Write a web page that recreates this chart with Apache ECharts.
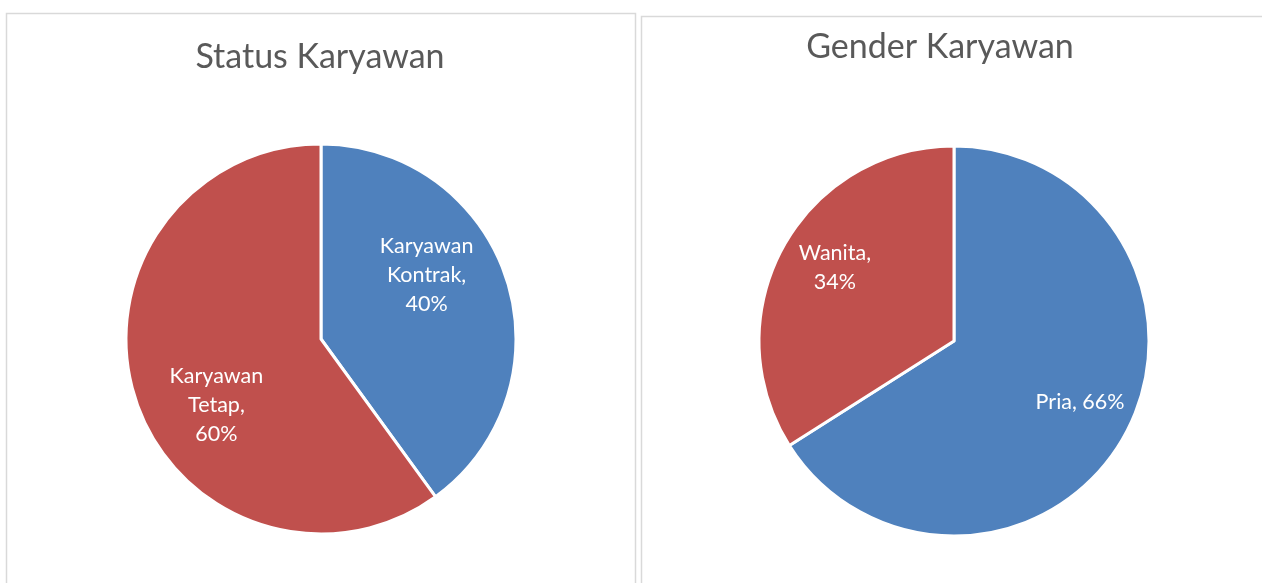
<!DOCTYPE html>
<html><head><meta charset="utf-8">
<script src="https://cdn.jsdelivr.net/npm/echarts@6/dist/echarts.min.js"></script>
<style>html,body{margin:0;padding:0;background:#fff}#c{width:1262px;height:583px}</style>
</head><body><div id="c"></div>
<script>
const statusTitle = 'Status Karyawan';
const statusNames = ['Karyawan\nKontrak', 'Karyawan\nTetap'];
const statusValues = [40, 60];
const genderTitle = 'Gender Karyawan';
const genderNames = ['Pria', 'Wanita'];
const genderValues = [66, 34];
const colors = ['#4F81BD', '#C0504D'];

const font = 'Lato, "Open Sans", sans-serif';
const chart = echarts.init(document.getElementById('c'), null, {renderer: 'canvas'});
const lbl = (offset) => ({offset});
chart.setOption({
  animation: false,
  color: colors,
  title: [
    {text: statusTitle, left: 315, top: 35, textAlign: 'center',
     textStyle: {fontFamily: font, fontSize: 34, fontWeight: 'normal', color: '#595959'}},
    {text: genderTitle, left: 935, top: 25, textAlign: 'center',
     textStyle: {fontFamily: font, fontSize: 34, fontWeight: 'normal', color: '#595959'}}
  ],
  graphic: [
    {type: 'rect', shape: {x: 6.5, y: 13.5, width: 629, height: 600}, style: {fill: 'none', stroke: '#d9d9d9', lineWidth: 1.5}},
    {type: 'rect', shape: {x: 641.5, y: 16.5, width: 640, height: 600}, style: {fill: 'none', stroke: '#d9d9d9', lineWidth: 1.5}}
  ],
  series: [
    {
      type: 'pie', center: [321, 339], radius: 195, startAngle: 90, clockwise: true,
      itemStyle: {borderColor: '#fff', borderWidth: 3},
      label: {position: 'inside', color: '#fff', fontFamily: font, fontSize: 21.5, lineHeight: 29,
              formatter: p => p.name + ',\n' + p.value + '%'},
      labelLine: {show: false},
      data: statusNames.map((n, i) => ({name: n, value: statusValues[i],
        label: lbl([[10, -33], [-9, 35]][i])}))
    },
    {
      type: 'pie', center: [954, 341], radius: 195, startAngle: 90, clockwise: true,
      itemStyle: {borderColor: '#fff', borderWidth: 3},
      label: {position: 'inside', color: '#fff', fontFamily: font, fontSize: 21.5, lineHeight: 29,
              formatter: p => p.name === 'Pria' ? p.name + ', ' + p.value + '%' : p.name + ',\n' + p.value + '%'},
      labelLine: {show: false},
      data: genderNames.map((n, i) => ({name: n, value: genderValues[i],
        label: lbl([[38, 13], [-31, -25]][i])}))
    }
  ]
});
</script></body></html>
